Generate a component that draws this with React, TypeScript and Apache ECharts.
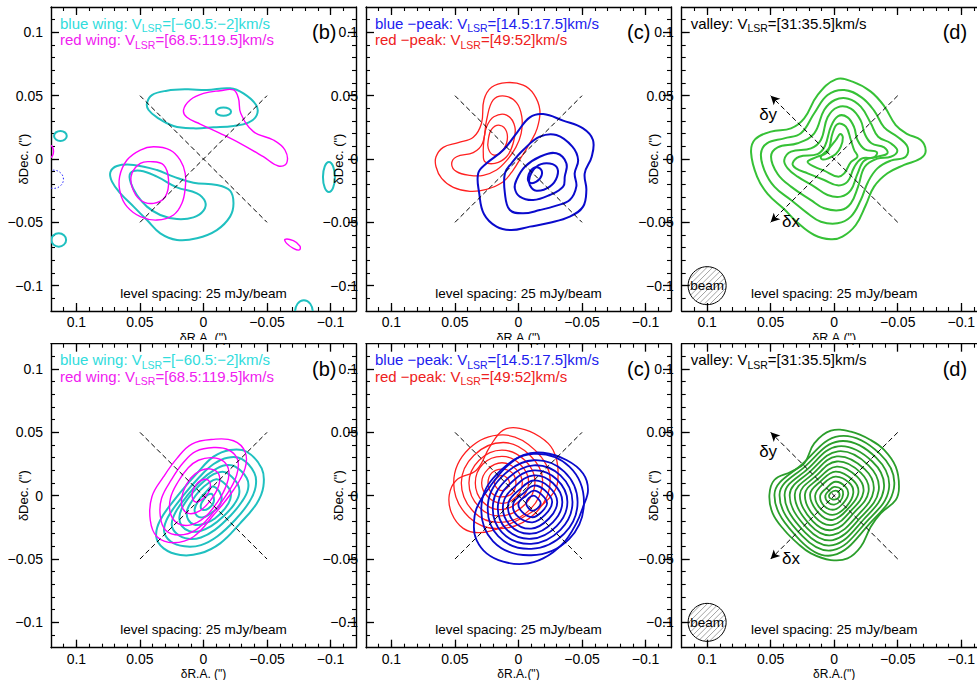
import React, { useEffect, useRef } from "react";
import * as echarts from "echarts";

type Pt = [number, number];

// ---------- axes ----------
const raTickLabels = [0.1, 0.05, 0, -0.05, -0.1];
const decTickLabels = [0.1, 0.05, 0, -0.05, -0.1];
const axisMin = -0.12;
const axisMax = 0.12;
const crossArms: Pt[][] = [
  [[0.05, 0.05], [-0.05, -0.05]],
  [[0.05, -0.05], [-0.05, 0.05]],
];
const beamPos: Pt = [0.1, -0.1];
const dyLabelPos: Pt = [0.052, 0.035];
const dxLabelPos: Pt = [0.034, -0.0495];

// ---------- top row, panel (b): wings ----------
const topWingCyan: Pt[][] = [
  [[0.0445,0.0439],[0.0406,0.0505],[0.0288,0.0539],[0.0131,0.055],[-0.0026,0.0545],[-0.0209,0.0558],[-0.0314,0.0518],[-0.0414,0.0426],[-0.0419,0.0347],[-0.0353,0.0287],[-0.0236,0.0261],[-0.0079,0.025],[0.0079,0.0242],[0.0236,0.0261],[0.0366,0.0329],[0.0432,0.0387]],
  [[-0.0097,0.0374],[-0.0115,0.0397],[-0.0157,0.0407],[-0.0199,0.0397],[-0.0217,0.0374],[-0.0199,0.0351],[-0.0157,0.0341],[-0.0115,0.0351]],
  [[0.0733,-0.0105],[0.0681,-0.0055],[0.055,-0.0047],[0.0366,-0.0087],[0.0236,-0.0139],[0.0079,-0.0187],[-0.0105,-0.0205],[-0.0209,-0.025],[-0.0236,-0.035],[-0.0209,-0.0455],[-0.0105,-0.0561],[0.0052,-0.0626],[0.0209,-0.0639],[0.034,-0.0587],[0.0445,-0.0482],[0.055,-0.0376],[0.0654,-0.0271],[0.072,-0.0179]],
  [[0.0576,-0.0113],[0.0497,-0.0092],[0.0366,-0.0139],[0.0209,-0.0224],[0.0052,-0.0271],[-0.0013,-0.0337],[0.0,-0.0408],[0.0079,-0.0461],[0.0209,-0.0474],[0.034,-0.0442],[0.0445,-0.0376],[0.0524,-0.0284],[0.0571,-0.0192]],
  [[0.1076,0.0182],[0.1091,0.021],[0.1126,0.0222],[0.1161,0.021],[0.1176,0.0182],[0.1161,0.0154],[0.1126,0.0142],[0.1091,0.0154]],
  [[0.1081,-0.0639],[0.1098,-0.0602],[0.1139,-0.0586],[0.118,-0.0602],[0.1197,-0.0639],[0.118,-0.0676],[0.1139,-0.0692],[0.1098,-0.0676]],
  [[-0.079,-0.1115],[-0.084,-0.1143],[-0.086,-0.121],[-0.084,-0.1277],[-0.079,-0.1305],[-0.074,-0.1277],[-0.072,-0.121],[-0.074,-0.1143]],
  [[-0.094,-0.0142],[-0.0954,-0.0058],[-0.0987,-0.0023],[-0.102,-0.0058],[-0.1034,-0.0142],[-0.102,-0.0226],[-0.0987,-0.0261],[-0.0954,-0.0226]],
];
const topWingMagenta: Pt[][] = [
  [[0.0157,0.0387],[0.0105,0.0466],[0.0,0.0518],[-0.0131,0.0539],[-0.0236,0.0545],[-0.0275,0.0479],[-0.0293,0.0361],[-0.0393,0.0216],[-0.055,0.015],[-0.0641,0.0071],[-0.0654,-0.0034],[-0.0589,-0.0055],[-0.0471,0.0018],[-0.0288,0.0124],[-0.0131,0.0203],[0.0026,0.0276],[0.0131,0.0329]],
  [[0.0393,0.0097],[0.0262,0.0071],[0.0183,-0.0008],[0.0144,-0.0113],[0.0144,-0.0232],[0.017,-0.035],[0.0236,-0.0442],[0.0366,-0.0482],[0.0497,-0.0455],[0.0602,-0.0376],[0.0654,-0.0271],[0.066,-0.0139],[0.0602,-0.0008],[0.0497,0.0071]],
  [[0.0419,-0.0021],[0.0314,-0.0047],[0.0275,-0.0166],[0.0301,-0.0297],[0.0393,-0.035],[0.0497,-0.0324],[0.0563,-0.0218],[0.0563,-0.0113],[0.0497,-0.0034]],
  [[0.118,0.006],[0.1189,0.0095],[0.121,0.011],[0.1231,0.0095],[0.124,0.006],[0.1231,0.0025],[0.121,0.001],[0.1189,0.0025]],
  [[-0.0641,-0.0634],[-0.0707,-0.0645],[-0.0759,-0.0687],[-0.0754,-0.0718],[-0.0707,-0.0705],[-0.0654,-0.0666]],
];
const topWingBlueDotted: Pt[][] = [
  [[0.1102,-0.016],[0.1125,-0.0109],[0.118,-0.0088],[0.1235,-0.0109],[0.1258,-0.016],[0.1235,-0.0211],[0.118,-0.0232],[0.1125,-0.0211]],
];

// ---------- top row, panel (c): peaks ----------
const topPeakRed: Pt[][] = [
  [[0.0649,0.0018],[0.0592,0.0092],[0.0474,0.0129],[0.0356,0.0171],[0.0291,0.0282],[0.0272,0.0466],[0.0212,0.0566],[0.0094,0.0603],[-0.0037,0.0584],[-0.012,0.0513],[-0.0168,0.0387],[-0.0147,0.0242],[-0.0089,0.0124],[-0.0024,0.0018],[0.0042,-0.0087],[0.012,-0.0179],[0.0251,-0.0239],[0.0382,-0.0255],[0.0513,-0.0224],[0.0605,-0.0153],[0.0649,-0.0061]],
  [[0.0526,-0.0039],[0.0487,0.0018],[0.0356,0.005],[0.0283,0.0124],[0.0251,0.0308],[0.0199,0.0466],[0.0107,0.0497],[0.0016,0.0445],[-0.0026,0.0334],[-0.0021,0.0203],[0.0021,0.0092],[0.0094,-0.0013],[0.0173,-0.0087],[0.0277,-0.0129],[0.0382,-0.0129],[0.0487,-0.01]],
  [[0.0277,0.0045],[0.0272,0.015],[0.0251,0.0255],[0.0194,0.0334],[0.0094,0.0347],[0.0029,0.0255],[0.0042,0.0124],[0.0094,0.0018],[0.0186,-0.0034],[0.0264,-0.0021]],
  [[0.0238,0.015],[0.0212,0.0234],[0.0147,0.0266],[0.0094,0.0216],[0.0094,0.0124],[0.0141,0.005],[0.0199,0.0032],[0.0238,0.0084]],
];
const topPeakBlue: Pt[][] = [
  [[0.0317,-0.0113],[0.0251,-0.0034],[0.012,0.0071],[0.0016,0.0203],[-0.0089,0.0329],[-0.0194,0.0355],[-0.0351,0.0303],[-0.0508,0.0242],[-0.0586,0.015],[-0.0576,0.0018],[-0.0521,-0.0113],[-0.0534,-0.0245],[-0.0508,-0.0376],[-0.0403,-0.0455],[-0.0246,-0.0503],[-0.0089,-0.0534],[0.0055,-0.0561],[0.0173,-0.0534],[0.0272,-0.0434],[0.0309,-0.0271]],
  [[0.0107,-0.0113],[0.0055,-0.0034],[-0.0037,0.0071],[-0.0168,0.0176],[-0.0298,0.0189],[-0.0424,0.0097],[-0.0469,-0.0008],[-0.0442,-0.0113],[-0.0455,-0.0218],[-0.0403,-0.0324],[-0.0298,-0.0368],[-0.0168,-0.0403],[-0.0037,-0.0429],[0.0068,-0.0403],[0.0107,-0.0271]],
  [[0.0016,-0.0166],[-0.005,-0.0061],[-0.0168,0.0018],[-0.0298,0.0045],[-0.0377,-0.0034],[-0.0364,-0.0139],[-0.0351,-0.0218],[-0.0246,-0.0284],[-0.0115,-0.0324],[-0.001,-0.0297],[0.0029,-0.0232]],
  [[-0.0089,-0.0139],[-0.0141,-0.0061],[-0.022,-0.0034],[-0.0298,-0.0061],[-0.0304,-0.0139],[-0.0246,-0.0218],[-0.0141,-0.025],[-0.0089,-0.0205]],
  [[-0.0076,-0.0139],[-0.0115,-0.0074],[-0.0168,-0.0074],[-0.0183,-0.0126],[-0.0141,-0.0179],[-0.0089,-0.0187]],
];

// ---------- top row, panel (d): valley ----------
const topValleyGreen: Pt[][] = [
  [[0.0654,0.005],[0.0623,0.0155],[0.0497,0.0216],[0.034,0.0242],[0.0236,0.0321],[0.0131,0.0505],[-0.0013,0.0629],[-0.0144,0.0611],[-0.0288,0.0532],[-0.0393,0.0418],[-0.0484,0.0268],[-0.0576,0.0197],[-0.0681,0.015],[-0.072,0.0066],[-0.0681,0.0005],[-0.055,-0.0047],[-0.0419,-0.0113],[-0.0314,-0.0218],[-0.0249,-0.0363],[-0.017,-0.0521],[-0.0065,-0.0613],[0.0026,-0.0634],[0.0157,-0.06],[0.0288,-0.0503],[0.0393,-0.0397],[0.0524,-0.0276],[0.0607,-0.0139]],
  [[0.0576,0.0045],[0.0529,0.0124],[0.0393,0.0163],[0.0262,0.0203],[0.0157,0.0361],[0.0052,0.0505],[-0.0079,0.0545],[-0.0215,0.0487],[-0.0314,0.0382],[-0.0393,0.025],[-0.0497,0.0176],[-0.0576,0.0097],[-0.0563,0.0018],[-0.0445,-0.0013],[-0.034,-0.0074],[-0.0267,-0.0179],[-0.0209,-0.0324],[-0.0131,-0.0455],[-0.0026,-0.0508],[0.0105,-0.0495],[0.0209,-0.0429],[0.034,-0.0324],[0.0471,-0.0218],[0.055,-0.0087]],
  [[0.0497,0.0018],[0.0445,0.0092],[0.0288,0.0124],[0.0157,0.0203],[0.0079,0.0387],[-0.0005,0.0466],[-0.011,0.0476],[-0.0209,0.0413],[-0.0288,0.0282],[-0.0346,0.0176],[-0.0445,0.0124],[-0.0497,0.0066],[-0.0445,0.0018],[-0.034,0.0003],[-0.0241,-0.0061],[-0.0188,-0.0218],[-0.0131,-0.035],[-0.0052,-0.0403],[0.0079,-0.0389],[0.0183,-0.0324],[0.034,-0.0218],[0.0445,-0.0118]],
  [[0.0393,-0.0008],[0.034,0.0058],[0.0183,0.0084],[0.0105,0.015],[0.0052,0.0329],[-0.0026,0.0408],[-0.0131,0.0397],[-0.0209,0.0303],[-0.0241,0.0197],[-0.0293,0.0124],[-0.0393,0.0092],[-0.0419,0.0045],[-0.034,0.0018],[-0.0236,-0.0013],[-0.0183,-0.0118],[-0.0131,-0.0245],[-0.0052,-0.0297],[0.0052,-0.0284],[0.0157,-0.0218],[0.0288,-0.0139],[0.0366,-0.0074]],
  [[0.0327,-0.0034],[0.0275,0.0018],[0.0131,0.0039],[0.0073,0.0103],[0.0026,0.0255],[-0.0031,0.0339],[-0.0105,0.0329],[-0.0157,0.025],[-0.0183,0.015],[-0.0241,0.0076],[-0.0335,0.0055],[-0.0314,0.0013],[-0.0215,0.0003],[-0.0157,-0.0066],[-0.0105,-0.0179],[-0.0026,-0.0208],[0.0079,-0.0166],[0.0209,-0.0113],[0.0301,-0.0074]],
  [[0.0209,-0.0021],[0.0131,0.0018],[0.0052,0.0058],[0.0013,0.0203],[-0.0026,0.0276],[-0.0092,0.0255],[-0.0131,0.015],[-0.0157,0.0071],[-0.0183,0.0018],[-0.0131,-0.0024],[-0.0079,-0.0113],[-0.0026,-0.0139],[0.0079,-0.0092],[0.0157,-0.0061]],
  [[0.0105,0.0018],[0.0052,0.0071],[-0.0013,0.015],[-0.0047,0.0197],[-0.0068,0.0171],[-0.0052,0.0097],[-0.0013,0.0039],[0.0052,0.0003],[0.0094,-0.0003]],
];

// ---------- bottom row, panel (b) ----------
const botWingCyan: Pt[][] = [
  [[-0.034,0.0347],[-0.0458,0.0216],[-0.0471,0.0071],[-0.0419,-0.0061],[-0.0288,-0.0218],[-0.0131,-0.0376],[0.0026,-0.0455],[0.0183,-0.0468],[0.0314,-0.0416],[0.0372,-0.0324],[0.034,-0.0192],[0.0209,-0.0008],[0.0052,0.0176],[-0.0079,0.0308],[-0.0209,0.0361]],
  [[-0.030,0.029],[-0.040,0.018],[-0.041,0.007],[-0.036,-0.005],[-0.025,-0.019],[-0.011,-0.032],[0.002,-0.039],[0.015,-0.040],[0.026,-0.036],[0.031,-0.028],[0.028,-0.017],[0.016,0.000],[0.003,0.015],[-0.008,0.025],[-0.019,0.030]],
  [[-0.025,0.023],[-0.034,0.014],[-0.035,0.005],[-0.030,-0.005],[-0.021,-0.016],[-0.009,-0.027],[0.002,-0.033],[0.012,-0.034],[0.021,-0.030],[0.025,-0.023],[0.022,-0.013],[0.012,0.001],[0.001,0.013],[-0.008,0.020],[-0.017,0.024]],
  [[-0.020,0.017],[-0.027,0.009],[-0.028,0.001],[-0.024,-0.007],[-0.016,-0.016],[-0.006,-0.024],[0.003,-0.028],[0.011,-0.028],[0.017,-0.024],[0.019,-0.017],[0.016,-0.008],[0.008,0.003],[-0.001,0.012],[-0.008,0.017],[-0.015,0.019]],
  [[-0.015,0.011],[-0.021,0.004],[-0.021,-0.003],[-0.017,-0.010],[-0.009,-0.018],[-0.001,-0.022],[0.007,-0.023],[0.012,-0.019],[0.013,-0.012],[0.009,-0.004],[0.003,0.004],[-0.004,0.010],[-0.010,0.013]],
  [[-0.010,0.006],[-0.014,0.000],[-0.013,-0.007],[-0.007,-0.013],[0.000,-0.017],[0.005,-0.016],[0.007,-0.011],[0.004,-0.004],[-0.002,0.003],[-0.006,0.007]],
  [[-0.007,0.001],[-0.008,-0.005],[-0.004,-0.010],[0.001,-0.011],[0.002,-0.007],[-0.001,-0.002],[-0.004,0.001]],
];
const botWingMagenta: Pt[][] = [
  [[0.0092,0.0408],[-0.0079,0.0445],[-0.0236,0.0434],[-0.0327,0.0347],[-0.0327,0.0216],[-0.0236,0.0045],[-0.0079,-0.0153],[0.0079,-0.0324],[0.0236,-0.0371],[0.0366,-0.0324],[0.0419,-0.0192],[0.0406,-0.0008],[0.0314,0.015],[0.0209,0.0295]],
  [[0.006,0.035],[-0.008,0.038],[-0.020,0.036],[-0.027,0.028],[-0.026,0.016],[-0.019,0.002],[-0.007,-0.014],[0.006,-0.027],[0.019,-0.031],[0.030,-0.027],[0.034,-0.016],[0.033,-0.002],[0.025,0.013],[0.016,0.026]],
  [[0.004,0.028],[-0.007,0.030],[-0.016,0.027],[-0.020,0.019],[-0.018,0.008],[-0.011,-0.005],[-0.001,-0.017],[0.010,-0.023],[0.020,-0.022],[0.026,-0.014],[0.026,-0.002],[0.020,0.011],[0.012,0.022]],
  [[0.002,0.020],[-0.006,0.021],[-0.012,0.017],[-0.012,0.008],[-0.006,-0.003],[0.003,-0.012],[0.012,-0.014],[0.017,-0.008],[0.016,0.003],[0.010,0.014]],
  [[0.002,0.012],[-0.004,0.012],[-0.005,0.005],[0.000,-0.002],[0.006,-0.005],[0.009,0.000],[0.007,0.007]],
];

// ---------- bottom row, panel (c) ----------
const botPeakRed: Pt[][] = [
  [[0.0545,0.0005],[0.0487,0.0124],[0.033,0.0203],[0.0225,0.0387],[0.012,0.0518],[-0.001,0.0532],[-0.0168,0.0466],[-0.0272,0.0361],[-0.0312,0.0176],[-0.0272,0.0018],[-0.0089,-0.0139],[0.012,-0.0245],[0.0304,-0.0292],[0.0435,-0.0258],[0.0526,-0.0139]],
  [[-0.025,0.012],[-0.013,0.036],[0.012,0.048],[0.039,0.037],[0.051,0.010],[0.039,-0.017],[0.014,-0.026],[-0.013,-0.014]],
  [[-0.019,0.012],[-0.009,0.032],[0.012,0.042],[0.035,0.032],[0.045,0.010],[0.035,-0.013],[0.014,-0.021],[-0.009,-0.011]],
  [[-0.013,0.011],[-0.005,0.028],[0.013,0.036],[0.031,0.028],[0.039,0.010],[0.031,-0.009],[0.014,-0.016],[-0.005,-0.007]],
  [[-0.008,0.011],[-0.001,0.025],[0.013,0.031],[0.028,0.025],[0.034,0.010],[0.028,-0.005],[0.014,-0.011],[-0.001,-0.004]],
  [[-0.003,0.010],[0.002,0.021],[0.013,0.026],[0.024,0.021],[0.029,0.010],[0.024,-0.001],[0.013,-0.006],[0.002,-0.001]],
  [[0.002,0.010],[0.005,0.018],[0.013,0.021],[0.021,0.018],[0.024,0.010],[0.021,0.002],[0.013,-0.001],[0.005,0.002]],
  [[0.007,0.010],[0.009,0.014],[0.013,0.016],[0.017,0.014],[0.019,0.010],[0.017,0.006],[0.013,0.004],[0.009,0.006]],
];
const botPeakBlue: Pt[][] = [
  [[0.0351,-0.0245],[0.033,-0.01],[0.0225,0.0071],[0.0094,0.0229],[-0.0037,0.0321],[-0.0194,0.0339],[-0.0377,0.0282],[-0.0508,0.0176],[-0.0547,0.0045],[-0.0508,-0.0087],[-0.0455,-0.0218],[-0.0351,-0.0376],[-0.0194,-0.0495],[-0.0037,-0.0539],[0.012,-0.0521],[0.0251,-0.0455],[0.033,-0.035]],
  [[-0.0515,-0.005],[-0.040,0.023],[-0.012,0.033],[0.014,0.020],[0.029,-0.006],[0.020,-0.036],[-0.010,-0.047],[-0.040,-0.034]],
  [[-0.0465,-0.005],[-0.036,0.019],[-0.012,0.028],[0.011,0.017],[0.024,-0.006],[0.016,-0.032],[-0.010,-0.042],[-0.036,-0.030]],
  [[-0.0425,-0.005],[-0.033,0.016],[-0.012,0.024],[0.008,0.014],[0.020,-0.006],[0.013,-0.029],[-0.010,-0.038],[-0.033,-0.027]],
  [[-0.0385,-0.005],[-0.030,0.013],[-0.012,0.020],[0.005,0.011],[0.016,-0.006],[0.010,-0.026],[-0.010,-0.034],[-0.030,-0.024]],
  [[-0.0345,-0.005],[-0.027,0.010],[-0.012,0.016],[0.002,0.008],[0.012,-0.006],[0.007,-0.023],[-0.010,-0.030],[-0.027,-0.021]],
  [[-0.0305,-0.005],[-0.024,0.007],[-0.012,0.012],[-0.001,0.005],[0.008,-0.006],[0.004,-0.020],[-0.010,-0.026],[-0.024,-0.018]],
  [[-0.0265,-0.005],[-0.021,0.004],[-0.012,0.008],[-0.004,0.002],[0.004,-0.006],[0.001,-0.016],[-0.011,-0.021],[-0.021,-0.015]],
  [[-0.0225,-0.006],[-0.018,0.001],[-0.012,0.004],[-0.006,0.000],[0.000,-0.006],[-0.003,-0.013],[-0.011,-0.017],[-0.018,-0.013]],
  [[-0.0175,-0.006],[-0.015,-0.002],[-0.012,0.000],[-0.008,-0.002],[-0.006,-0.006],[-0.008,-0.010],[-0.011,-0.012],[-0.015,-0.010]],
];

// ---------- bottom row, panel (d) ----------
const botValleyGreen: Pt[][] = [
  [[0.051,0.0005],[0.0471,0.0124],[0.034,0.0189],[0.0236,0.0255],[0.0157,0.0413],[0.0026,0.0513],[-0.0131,0.0505],[-0.0288,0.0439],[-0.0393,0.0361],[-0.0484,0.0229],[-0.051,0.0071],[-0.0484,-0.0034],[-0.0366,-0.0139],[-0.0288,-0.0245],[-0.0209,-0.0403],[-0.0105,-0.0495],[0.0026,-0.0508],[0.0183,-0.0455],[0.0288,-0.0376],[0.0393,-0.0271],[0.0484,-0.0139]],
  [[-0.047,0.006],[-0.036,0.033],[-0.004,0.047],[0.025,0.025],[0.047,0.001],[0.027,-0.035],[0.001,-0.047],[-0.027,-0.023]],
  [[-0.043,0.005],[-0.033,0.030],[-0.004,0.043],[0.023,0.023],[0.043,0.001],[0.025,-0.032],[0.001,-0.043],[-0.025,-0.021]],
  [[-0.039,0.005],[-0.030,0.027],[-0.003,0.039],[0.021,0.021],[0.039,0.001],[0.023,-0.029],[0.001,-0.039],[-0.023,-0.019]],
  [[-0.035,0.004],[-0.027,0.024],[-0.003,0.035],[0.019,0.019],[0.035,0.001],[0.021,-0.026],[0.001,-0.035],[-0.021,-0.017]],
  [[-0.031,0.004],[-0.024,0.021],[-0.002,0.031],[0.017,0.017],[0.031,0.001],[0.019,-0.023],[0.001,-0.031],[-0.019,-0.015]],
  [[-0.027,0.003],[-0.021,0.018],[-0.002,0.027],[0.015,0.015],[0.027,0.001],[0.017,-0.020],[0.001,-0.027],[-0.016,-0.013]],
  [[-0.023,0.003],[-0.018,0.015],[-0.002,0.023],[0.013,0.013],[0.023,0.001],[0.015,-0.017],[0.001,-0.023],[-0.014,-0.011]],
  [[-0.019,0.002],[-0.015,0.012],[-0.001,0.019],[0.011,0.011],[0.019,0.001],[0.012,-0.014],[0.001,-0.019],[-0.012,-0.009]],
  [[-0.015,0.002],[-0.012,0.010],[-0.001,0.015],[0.009,0.009],[0.015,0.000],[0.010,-0.011],[0.000,-0.015],[-0.010,-0.008]],
  [[-0.011,0.001],[-0.009,0.007],[-0.001,0.011],[0.006,0.006],[0.011,0.000],[0.008,-0.008],[0.000,-0.011],[-0.007,-0.006]],
  [[-0.007,0.001],[-0.006,0.005],[0.000,0.007],[0.004,0.004],[0.007,0.000],[0.005,-0.005],[0.000,-0.007],[-0.005,-0.004]],
  [[-0.004,0.002],[-0.001,0.004],[0.003,0.002],[0.004,-0.001],[0.001,-0.003],[-0.003,-0.002]],
];

// ---------- texts ----------
const panelLetters = ["(b)", "(c)", "(d)", "(b)", "(c)", "(d)"];
const levelText = "level spacing: 25 mJy/beam";

// ---------- layout ----------
const FONT = '"Liberation Sans", Arial, Helvetica, sans-serif';
const GL = [51, 366, 681.7];
const GT = [7, 343.7];
const GW = 305;
const GH = 304;

function fmt(v: number): string {
  if (Math.abs(v) < 1e-9) return "0";
  return String(+v.toFixed(3)).replace("-", "\u2212");
}

function buildOption() {
  const minorVals: number[] = [];
  for (let k = -11; k <= 11; k++) minorVals.push(k / 100);
  const grids: any[] = [];
  const xAxes: any[] = [];
  const yAxes: any[] = [];
  const series: any[] = [];
  for (let g = 0; g < 6; g++) {
    const col = g % 3;
    const row = Math.floor(g / 3);
    grids.push({ left: GL[col], top: GT[row], width: GW, height: GH, outerBoundsMode: "none", containLabel: false });
    const base = {
      gridIndex: g, type: "value", min: axisMin, max: axisMax,
      splitLine: { show: false }, silent: true,
    };
    const line = { show: true, onZero: false, lineStyle: { color: "#000", width: 1.4 } };
    const noLine = { show: false, onZero: false };
    const label = {
      show: true, customValues: raTickLabels, formatter: fmt, color: "#000",
      fontSize: 14, fontFamily: FONT, margin: 4,
    };
    const majT = { show: true, inside: true, length: 8, customValues: raTickLabels, lineStyle: { color: "#000", width: 1.3 } };
    const minT = { show: true, inside: true, length: 4, customValues: minorVals, lineStyle: { color: "#000", width: 1.1 } };
    xAxes.push({ ...base, inverse: true, position: "bottom", axisLine: line, axisTick: majT, axisLabel: label });
    xAxes.push({ ...base, inverse: true, position: "bottom", axisLine: noLine, axisTick: minT, axisLabel: { show: false } });
    xAxes.push({ ...base, inverse: true, position: "top", axisLine: line, axisTick: majT, axisLabel: { show: false } });
    xAxes.push({ ...base, inverse: true, position: "top", axisLine: noLine, axisTick: minT, axisLabel: { show: false } });
    const ylabel = { ...label, customValues: decTickLabels, margin: 8 };
    const ymajT = { ...majT, customValues: decTickLabels };
    yAxes.push({ ...base, position: "left", axisLine: line, axisTick: ymajT, axisLabel: ylabel });
    yAxes.push({ ...base, position: "left", axisLine: noLine, axisTick: minT, axisLabel: { show: false } });
    yAxes.push({ ...base, position: "right", axisLine: line, axisTick: ymajT, axisLabel: { show: false } });
    yAxes.push({ ...base, position: "right", axisLine: noLine, axisTick: minT, axisLabel: { show: false } });

    // dashed crosses
    if (col < 2) {
      crossArms.forEach((arm) => {
        series.push({
          type: "line", xAxisIndex: 4 * g, yAxisIndex: 4 * g, data: arm, showSymbol: false, silent: true,
          lineStyle: { color: "#000", width: 1, type: [5, 3] }, z: 5,
        });
      });
    } else {
      series.push({
        type: "line", xAxisIndex: 4 * g, yAxisIndex: 4 * g, data: [], silent: true,
        markLine: {
          silent: true, symbol: ["none", "arrow"], symbolSize: [7, 9], label: { show: false },
          lineStyle: { color: "#000", width: 1, type: [5, 3] }, animation: false,
          data: crossArms.map((arm) => [{ coord: arm[1] }, { coord: arm[0] }]),
        },
        z: 5,
      });
    }
  }

  const contour = (g: number, list: Pt[][], color: string, width: number, dash?: number[]) => ({
    type: "custom", xAxisIndex: 4 * g, yAxisIndex: 4 * g, clip: true, silent: true, z: 3,
    data: list.map((c, i) => [c[0][0], c[0][1], i]),
    encode: { x: 0, y: 1 },
    renderItem: (_p: any, api: any) => {
      const c = list[api.value(2)];
      const pts = c.map((p) => api.coord(p));
      return {
        type: "polygon",
        shape: { points: pts, smooth: 0.4 },
        style: { fill: "none", stroke: color, lineWidth: width, lineDash: dash || null },
      };
    },
  });

  series.push(contour(0, topWingCyan, "#1fc0c0", 2));
  series.push(contour(0, topWingMagenta, "#ff00ff", 1.4));
  series.push(contour(0, topWingBlueDotted, "#2020ff", 1, [1.5, 2]));
  series.push(contour(1, topPeakRed, "#ff2020", 1.3));
  series.push(contour(1, topPeakBlue, "#0a0acc", 2));
  series.push(contour(2, topValleyGreen, "#36c136", 2));
  series.push(contour(3, botWingCyan, "#1fc0c0", 2));
  series.push(contour(3, botWingMagenta, "#ff00ff", 1.4));
  series.push(contour(4, botPeakRed, "#ff2020", 1.3));
  series.push(contour(4, botPeakBlue, "#0a0acc", 1.8));
  series.push(contour(5, botValleyGreen, "#2b9e2b", 1.8));

  return {
    animation: false,
    backgroundColor: "#fff",
    grid: grids,
    xAxis: xAxes,
    yAxis: yAxes,
    series,
  };
}

function rt(fill: string) {
  return {
    a: { fontSize: 15, fontFamily: FONT, fill, lineHeight: 15, verticalAlign: "top" },
    s: { fontSize: 10.5, fontFamily: FONT, fill, lineHeight: 8, verticalAlign: "top", padding: [7, 0, 0, 0] },
  };
}

function buildGraphic(chart: any) {
  const els: any[] = [];
  const txt = (x: number, y: number, text: string, fill: string, size: number, align = "left", vAlign = "middle") => {
    els.push({
      type: "text", x, y, silent: true, z: 50,
      style: { text, fill, font: `${size}px ${FONT}`, textAlign: align, textVerticalAlign: vAlign },
    });
  };
  const richTxt = (x: number, y: number, text: string, fill: string) => {
    els.push({
      type: "text", x, y, silent: true, z: 50,
      style: { text, rich: rt(fill), textAlign: "left", textVerticalAlign: "middle", fill },
    });
  };
  const lines: [string, string][][] = [
    [["{a|blue wing: V}{s|LSR}{a|=[\u221260.5:\u22122]km/s}", "#30dcdc"], ["{a|red wing: V}{s|LSR}{a|=[68.5:119.5]km/s}", "#f020f0"]],
    [["{a|blue \u2212peak: V}{s|LSR}{a|=[14.5:17.5]km/s}", "#2020ee"], ["{a|red \u2212peak: V}{s|LSR}{a|=[49:52]km/s}", "#ee2020"]],
    [["{a|valley: V}{s|LSR}{a|=[31:35.5]km/s}", "#000"]],
  ];
  for (let g = 0; g < 6; g++) {
    const col = g % 3;
    const row = Math.floor(g / 3);
    const gl = GL[col];
    const gt = GT[row];
    lines[col].forEach((ln, i) => richTxt(gl + 9, gt + 16 + i * 16.5, ln[0], ln[1]));
    txt(gl + 261, gt + 25, panelLetters[g], "#000", 20);
    txt(gl + GW / 2, gt + GH - 18, levelText, "#000", 13.5, "center");
    const xTitle = col === 0 ? "\u03b4R.A. (\")" : "\u03b4R.A.(\")";
    if (row === 0) txt(gl + GW / 2, gt + GH + 27, xTitle, "#000", 12.5, "center");
    else txt(gl + GW / 2, 679.5, xTitle, "#000", 12, "center", "bottom");
    els.push({
      type: "text", x: gl - 28, y: gt + GH / 2, rotation: Math.PI / 2, silent: true, z: 50,
      style: { text: "\u03b4Dec. (\")", fill: "#000", font: `13px ${FONT}`, textAlign: "center", textVerticalAlign: "middle" },
    });
    if (col === 2) {
      const bp = chart.convertToPixel({ xAxisIndex: 4 * g, yAxisIndex: 4 * g }, beamPos);
      const r = 19;
      const children: any[] = [
        { type: "circle", shape: { cx: bp[0], cy: bp[1], r }, style: { fill: "#fff", stroke: "none" } },
      ];
      for (let d = -r + 2; d < r; d += 4) {
        const h = Math.sqrt(r * r - d * d);
        const nx = d / Math.SQRT2, ny = d / Math.SQRT2;
        const tx = 1 / Math.SQRT2, ty = -1 / Math.SQRT2;
        children.push({
          type: "line",
          shape: { x1: bp[0] + nx - h * tx, y1: bp[1] + ny - h * ty, x2: bp[0] + nx + h * tx, y2: bp[1] + ny + h * ty },
          style: { stroke: "#999", lineWidth: 0.9 },
        });
      }
      children.push({ type: "circle", shape: { cx: bp[0], cy: bp[1], r }, style: { fill: "none", stroke: "#000", lineWidth: 1 } });
      els.push({ type: "group", silent: true, z: 40, children });
      txt(bp[0], bp[1], "beam", "#000", 13.5, "center");
      const py = chart.convertToPixel({ xAxisIndex: 4 * g, yAxisIndex: 4 * g }, dyLabelPos);
      const px = chart.convertToPixel({ xAxisIndex: 4 * g, yAxisIndex: 4 * g }, dxLabelPos);
      txt(py[0], py[1], "\u03b4y", "#000", 17, "center");
      txt(px[0], px[1], "\u03b4x", "#000", 17, "center");
    }
  }
  // the composite figure crops the top row's x-axis title
  els.push({ type: "rect", shape: { x: 0, y: 340, width: 977, height: 3 }, style: { fill: "#fff" }, z: 60, silent: true });
  return els;
}

export default function App() {
  const ref = useRef<HTMLDivElement>(null);
  useEffect(() => {
    const el = ref.current!;
    const chart = echarts.init(el, null, { renderer: "svg" });
    chart.setOption(buildOption() as any);
    chart.setOption({ graphic: buildGraphic(chart) } as any);
    return () => chart.dispose();
  }, []);
  return (
    <div
      ref={ref}
      style={{ position: "absolute", left: 0, top: 0, width: 977, height: 680, background: "#fff" }}
    />
  );
}
